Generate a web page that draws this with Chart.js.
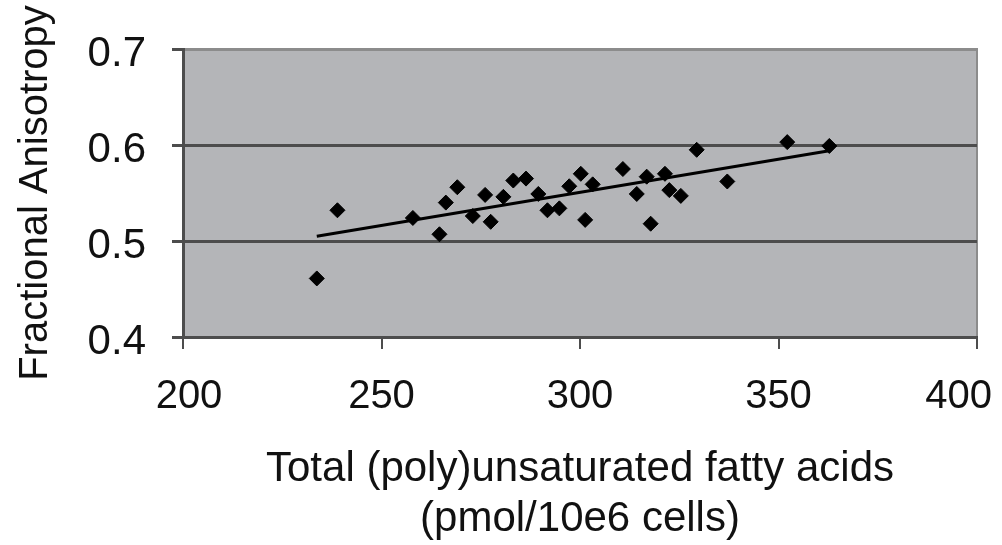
<!DOCTYPE html>
<html>
<head>
<meta charset="utf-8">
<script src="https://cdn.jsdelivr.net/npm/chart.js@4/dist/chart.umd.min.js"></script>
<style>
  html, body { margin: 0; padding: 0; background: #fff; }
  #wrap { width: 1002px; height: 545px; }
</style>
</head>
<body>
<div id="wrap"><canvas id="chart" width="1002" height="545"></canvas></div>
<script>
// measured points (total PUFA vs fractional anisotropy)
var fattyAcids = [233.7, 238.9, 257.9, 264.6, 266.2, 269.1, 273.0, 276.1, 277.5, 280.7,
                  283.2, 286.4, 289.5, 291.8, 294.8, 297.3, 300.2, 301.3, 303.2, 310.8,
                  314.3, 316.8, 317.8, 321.4, 322.5, 325.4, 329.4, 337.1, 352.2, 362.8];
var anisotropy = [0.461, 0.532, 0.524, 0.507, 0.540, 0.556, 0.526, 0.548, 0.520, 0.546,
                  0.563, 0.565, 0.549, 0.532, 0.534, 0.557, 0.570, 0.522, 0.559, 0.575,
                  0.549, 0.567, 0.518, 0.570, 0.553, 0.547, 0.595, 0.562, 0.603, 0.599];
// trend line end points
var trendX = [233.7, 362.8];
var trendY = [0.505, 0.594];

var xTicks = [200, 250, 300, 350, 400];
var yTicks = [0.4, 0.5, 0.6, 0.7];

var FONT = "'Liberation Sans', Arial, sans-serif";

function toPoints(xs, ys) {
	var pts = [];
	for (var i = 0; i < xs.length; i++) pts.push({x: xs[i], y: ys[i]});
	return pts;
}

// grey plot area + light top/right frame
var plotBg = {
	id: 'plotBg',
	beforeDraw: function(chart) {
		var a = chart.chartArea, ctx = chart.ctx;
		ctx.save();
		ctx.fillStyle = '#b4b5b8';
		ctx.fillRect(a.left, a.top, a.right - a.left, a.bottom - a.top);
		ctx.strokeStyle = '#8c8c8c';
		ctx.lineWidth = 2;
		ctx.beginPath();
		ctx.moveTo(a.left, a.top);
		ctx.lineTo(a.right, a.top);
		ctx.lineTo(a.right, a.bottom);
		ctx.stroke();
		ctx.restore();
	}
};

// keep the last x label ("400") inside the canvas, like the original
var lastLabelFit = {
	id: 'lastLabelFit',
	beforeDraw: function(chart) {
		var items = chart.scales.x.getLabelItems();
		if (!items.length) return;
		var last = items[items.length - 1];
		last.options.textAlign = 'right';
		last.options.translation[0] = chart.width - 10;
		items[0].options.translation[0] += 6;
	}
};

var ctx = document.getElementById('chart').getContext('2d');
var myChart = new Chart(ctx, {
	type: 'scatter',
	data: {
		datasets: [{
			data: toPoints(fattyAcids, anisotropy),
			pointStyle: 'rectRot',
			pointRadius: 7.5,
			pointBackgroundColor: '#000',
			pointBorderColor: '#000',
			pointBorderWidth: 1,
			showLine: false,
			order: 1
		}, {
			data: toPoints(trendX, trendY),
			showLine: true,
			borderColor: '#000',
			borderWidth: 3,
			pointRadius: 0,
			order: 2
		}]
	},
	options: {
		responsive: false,
		animation: false,
		layout: { padding: { top: 49, right: 25, bottom: 0, left: 0 } },
		plugins: {
			legend: { display: false },
			tooltip: { enabled: false }
		},
		scales: {
			x: {
				type: 'linear',
				min: 200, max: 400,
				afterBuildTicks: function(s) { s.ticks = xTicks.map(function(v){ return {value: v}; }); },
				afterFit: function(s) { s.height = 208; s.paddingLeft = 0; s.paddingRight = 0; },
				grid: { drawOnChartArea: false, drawTicks: true, tickLength: 12, color: '#4d4d4d', lineWidth: 2 },
				border: { display: true, color: '#4d4d4d', width: 3 },
				ticks: { color: '#111', padding: 24, maxRotation: 0, font: { family: FONT, size: 40 } },
				title: {
					display: true,
					text: ['Total (poly)unsaturated fatty acids', '(pmol/10e6 cells)'],
					color: '#111',
					padding: { top: 0, bottom: 0 },
					font: { family: FONT, size: 42, lineHeight: 1.2 }
				}
			},
			y: {
				type: 'linear',
				min: 0.4, max: 0.7,
				afterBuildTicks: function(s) { s.ticks = yTicks.map(function(v){ return {value: v}; }); },
				afterFit: function(s) { s.width = 183; s.paddingTop = 0; s.paddingBottom = 0; },
				grid: {
					drawTicks: true, tickLength: 11,
					color: function(c) { return (c.tick && c.tick.value === 0.7) ? '#8c8c8c' : '#4d4d4d'; },
					tickColor: '#4d4d4d',
					lineWidth: 3
				},
				border: { display: true, color: '#4d4d4d', width: 3 },
				ticks: {
					color: '#111', padding: 26, labelOffset: 5,
					font: { family: FONT, size: 42 },
					callback: function(v) { return v.toFixed(1); }
				},
				title: {
					display: true,
					text: 'Fractional Anisotropy',
					color: '#111',
					padding: { top: 12, bottom: 0 },
					font: { family: FONT, size: 40 }
				}
			}
		}
	},
	plugins: [plotBg, lastLabelFit]
});
</script>
</body>
</html>
